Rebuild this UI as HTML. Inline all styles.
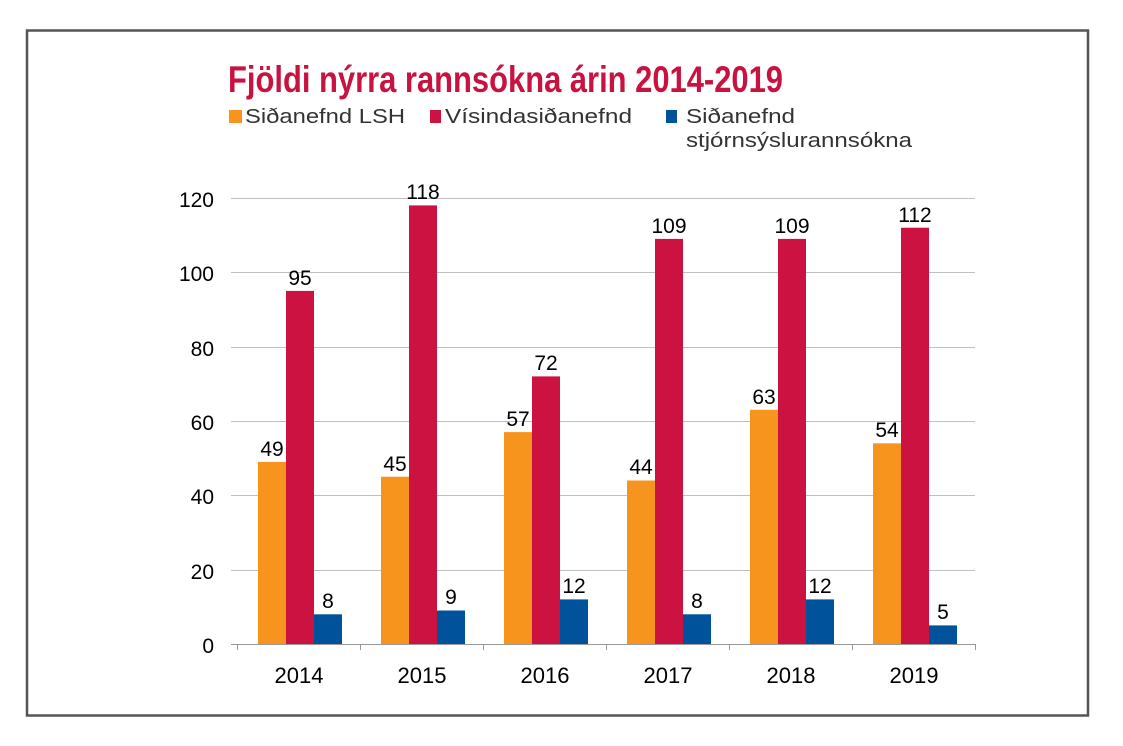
<!DOCTYPE html>
<html><head><meta charset="utf-8"><style>
html,body{margin:0;padding:0;background:#fff;}
svg{display:block;}
</style></head><body>
<svg width="1123" height="746" viewBox="0 0 1123 746" xmlns="http://www.w3.org/2000/svg" font-family="Liberation Sans, sans-serif">
<rect x="0" y="0" width="1123" height="746" fill="#fff"/>
<rect x="27" y="30.5" width="1061" height="685" fill="none" stroke="#555" stroke-width="2.5"/>
<text x="228" y="92" font-size="37" font-weight="bold" fill="#C8123F" textLength="555" lengthAdjust="spacingAndGlyphs">Fjöldi nýrra rannsókna árin 2014-2019</text>
<g font-size="20" fill="#333">
<rect x="229" y="110" width="13" height="13" fill="#F7941D"/>
<text x="245" y="123" textLength="160" lengthAdjust="spacingAndGlyphs">Siðanefnd LSH</text>
<rect x="430" y="110" width="11" height="13" fill="#CC1241"/>
<text x="445" y="123" textLength="187" lengthAdjust="spacingAndGlyphs">Vísindasiðanefnd</text>
<rect x="666" y="110" width="11" height="13" fill="#00529B"/>
<text x="686" y="123" textLength="109" lengthAdjust="spacingAndGlyphs">Siðanefnd</text>
<text x="686" y="147" textLength="226" lengthAdjust="spacingAndGlyphs">stjórnsýslurannsókna</text>
</g>
<g stroke="#bfbfbf" stroke-width="1">
<line x1="231" y1="198.5" x2="975" y2="198.5"/>
<line x1="231" y1="272.5" x2="975" y2="272.5"/>
<line x1="231" y1="347.5" x2="975" y2="347.5"/>
<line x1="231" y1="421.5" x2="975" y2="421.5"/>
<line x1="231" y1="495.5" x2="975" y2="495.5"/>
<line x1="231" y1="570.5" x2="975" y2="570.5"/>
</g>
<g stroke="#999" stroke-width="1">
<line x1="231" y1="644.5" x2="975" y2="644.5"/>
<line x1="237.5" y1="644" x2="237.5" y2="650"/>
<line x1="360.5" y1="644" x2="360.5" y2="650"/>
<line x1="483.5" y1="644" x2="483.5" y2="650"/>
<line x1="606.5" y1="644" x2="606.5" y2="650"/>
<line x1="729.5" y1="644" x2="729.5" y2="650"/>
<line x1="852.5" y1="644" x2="852.5" y2="650"/>
<line x1="975.5" y1="644" x2="975.5" y2="650"/>
</g>
<g font-size="21" fill="#000" text-anchor="end">
<text x="214" y="207">120</text>
<text x="214" y="281">100</text>
<text x="214" y="356">80</text>
<text x="214" y="430">60</text>
<text x="214" y="504">40</text>
<text x="214" y="579">20</text>
<text x="214" y="653">0</text>
</g>
<g font-size="22" fill="#000" text-anchor="middle">
<text x="299" y="683">2014</text>
<text x="422" y="683">2015</text>
<text x="545" y="683">2016</text>
<text x="668" y="683">2017</text>
<text x="791" y="683">2018</text>
<text x="914" y="683">2019</text>
</g>
<g>
<rect x="258" y="461.9" width="28" height="182.1" fill="#F7941D"/>
<rect x="286" y="290.9" width="28" height="353.1" fill="#CC1241"/>
<rect x="314" y="614.3" width="28" height="29.7" fill="#00529B"/>
<rect x="381" y="476.7" width="28" height="167.3" fill="#F7941D"/>
<rect x="409" y="205.4" width="28" height="438.6" fill="#CC1241"/>
<rect x="437" y="610.5" width="28" height="33.5" fill="#00529B"/>
<rect x="504" y="432.1" width="28" height="211.9" fill="#F7941D"/>
<rect x="532" y="376.4" width="28" height="267.6" fill="#CC1241"/>
<rect x="560" y="599.4" width="28" height="44.6" fill="#00529B"/>
<rect x="627" y="480.5" width="28" height="163.5" fill="#F7941D"/>
<rect x="655" y="238.9" width="28" height="405.1" fill="#CC1241"/>
<rect x="683" y="614.3" width="28" height="29.7" fill="#00529B"/>
<rect x="750" y="409.8" width="28" height="234.2" fill="#F7941D"/>
<rect x="778" y="238.9" width="28" height="405.1" fill="#CC1241"/>
<rect x="806" y="599.4" width="28" height="44.6" fill="#00529B"/>
<rect x="873" y="443.3" width="28" height="200.7" fill="#F7941D"/>
<rect x="901" y="227.7" width="28" height="416.3" fill="#CC1241"/>
<rect x="929" y="625.4" width="28" height="18.6" fill="#00529B"/>
</g>
<g font-size="21" fill="#000" text-anchor="middle">
<text x="272" y="456">49</text><text x="300" y="285">95</text><text x="328" y="608">8</text>
<text x="395" y="471">45</text><text x="423" y="199">118</text><text x="451" y="604">9</text>
<text x="518" y="426">57</text><text x="546" y="370">72</text><text x="574" y="593">12</text>
<text x="641" y="474">44</text><text x="669" y="233">109</text><text x="697" y="608">8</text>
<text x="764" y="404">63</text><text x="792" y="233">109</text><text x="820" y="593">12</text>
<text x="887" y="437">54</text><text x="915" y="222">112</text><text x="943" y="619">5</text>
</g>
</svg>
</body></html>
